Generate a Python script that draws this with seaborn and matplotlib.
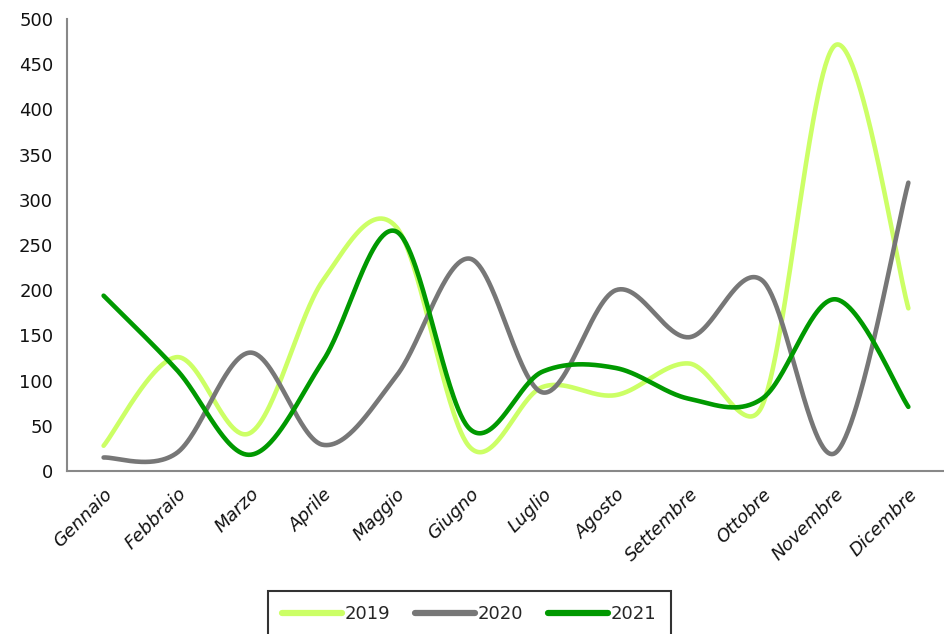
import numpy as np
import pandas as pd
import matplotlib
matplotlib.use("Agg")
import matplotlib.pyplot as plt
from matplotlib.lines import Line2D
import seaborn as sns

months = ["Gennaio", "Febbraio", "Marzo", "Aprile", "Maggio", "Giugno",
          "Luglio", "Agosto", "Settembre", "Ottobre", "Novembre", "Dicembre"]
v2019 = [28, 126, 42, 211, 270, 27, 93, 84, 119, 72, 471, 180]
v2020 = [15, 20, 131, 29, 105, 235, 87, 200, 148, 211, 20, 319]
v2021 = [194, 112, 18, 122, 265, 47, 110, 114, 80, 80, 190, 71]
years = ["2019", "2020", "2021"]
colors = {"2019": "#CCFF66", "2020": "#777777", "2021": "#009900"}
yticks = list(range(0, 501, 50))

# pixel scale of the plot area (used only to shape the smoothing like Excel)
PX_PER_CAT = 73.0
PX_PER_UNIT = 0.904


def smooth(vals, n=60):
    # Excel-like smoothed line: cubic Bezier, Catmull-Rom handles clipped to half segment
    y = np.asarray(vals, float)
    x = np.arange(len(y), dtype=float)
    P = np.column_stack([x * PX_PER_CAT, y * PX_PER_UNIT])
    Q = np.vstack([P[0], P, P[-1]])
    t = np.linspace(0, 1, n, endpoint=False)
    out = []
    for i in range(len(y) - 1):
        p0, p3 = P[i], P[i + 1]
        seg = np.linalg.norm(p3 - p0)
        h1 = (Q[i + 2] - Q[i]) / 6
        h2 = (Q[i + 3] - Q[i + 1]) / 6
        for h in (h1, h2):
            L = np.linalg.norm(h)
            if L > seg / 2:
                h *= (seg / 2) / L
        p1 = p0 + h1
        p2 = p3 - h2
        b = ((1 - t) ** 3)[:, None] * p0 + (3 * (1 - t) ** 2 * t)[:, None] * p1 \
            + (3 * (1 - t) * t ** 2)[:, None] * p2 + (t ** 3)[:, None] * p3
        out.append(b)
    out.append(P[-1][None, :])
    B = np.vstack(out)
    return B[:, 0] / PX_PER_CAT, B[:, 1] / PX_PER_UNIT


frames = []
for yr, vals in zip(years, [v2019, v2020, v2021]):
    sx, sy = smooth(vals)
    frames.append(pd.DataFrame({"x": sx, "value": sy, "anno": yr}))
df = pd.concat(frames, ignore_index=True)

sns.set_theme(style="white")
plt.rcParams["font.family"] = ["DejaVu Sans"]

fig = plt.figure(figsize=(9.44, 6.34), dpi=100)
ax = fig.add_axes([0.071, 0.257, 0.93, 0.713])

sns.lineplot(data=df, x="x", y="value", hue="anno", palette=colors,
             linewidth=3.3, sort=False, estimator=None, ax=ax, legend=False,
             solid_capstyle="round")

ax.set_xlim(-0.5, 11.5)
ax.set_ylim(0, 500)
ax.set_yticks(yticks)
ax.set_yticklabels([str(v) for v in yticks], fontsize=13, color="#111111")
ax.set_xticks(range(len(months)))
ax.set_xticklabels(months, fontsize=13, style="italic", rotation=45,
                   ha="right", rotation_mode="anchor", color="#111111")
ax.set_xticks(np.arange(-0.5, 12, 1), minor=True)
ax.tick_params(axis="x", which="major", length=0, pad=10)
ax.tick_params(axis="x", which="minor", length=6, color="#888888", width=1.2, direction="out")
ax.tick_params(axis="y", length=6, color="#888888", width=1.2, direction="out", pad=4)
ax.set_xlabel("")
ax.set_ylabel("")
for s in ["top", "right"]:
    ax.spines[s].set_visible(False)
for s in ["left", "bottom"]:
    ax.spines[s].set_color("#888888")
    ax.spines[s].set_linewidth(1.5)

handles = [Line2D([0], [0], color=colors[y], lw=4.5) for y in years]
leg = fig.legend(handles, years, loc="upper center", bbox_to_anchor=(0.497, 0.068),
                 ncol=3, frameon=True, fontsize=13, handlelength=3.3,
                 handletextpad=0.15, columnspacing=1.4, borderpad=0.8,
                 borderaxespad=0, fancybox=False, edgecolor="black")
leg.get_frame().set_linewidth(1.5)

fig.savefig("out.png", dpi=100)
